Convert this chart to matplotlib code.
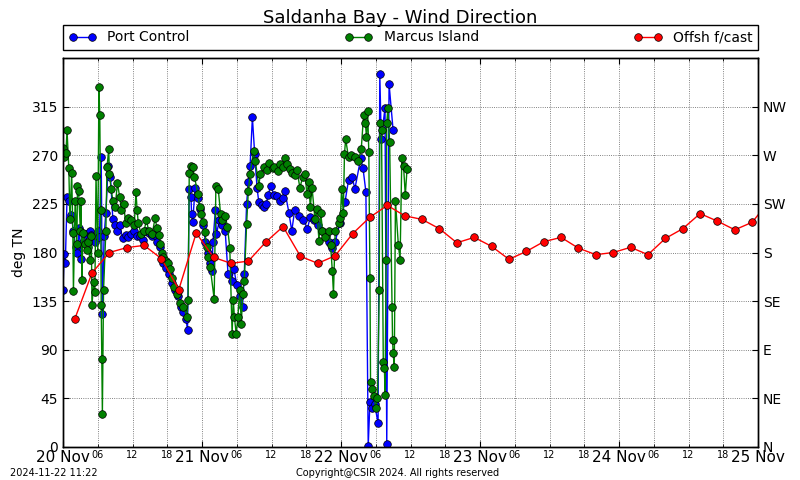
import datetime as dt
import matplotlib
matplotlib.use("Agg")
import matplotlib.pyplot as plt
import matplotlib.dates as mdates

# hours after 2024-11-20 00:00 (SAST) and direction in deg TN
start = dt.datetime(2024, 11, 20)

pc_hours = [0.0, 0.2, 0.4, 0.7, 1.0, 1.4, 1.8, 2.2, 2.5, 2.8, 3.1, 3.5, 3.9, 4.3, 4.6, 4.9,
            5.3, 5.6, 6.0, 6.3, 6.6, 6.8, 7.1, 7.4, 7.8, 8.2, 8.6, 9.0, 9.4, 9.8, 10.3, 10.8,
            11.3, 11.8, 12.3, 12.8, 13.3, 13.8, 14.3, 14.8, 15.3, 15.8, 16.3, 16.8, 17.3, 17.8,
            18.3, 18.8, 19.3, 19.8, 20.3, 20.8, 21.3, 21.5, 21.8, 22.1, 22.2, 22.4, 22.8, 23.3,
            23.7, 24.2, 24.6, 25.0, 25.4, 25.7, 25.9, 26.3, 26.5, 27.0, 27.5, 28.0, 28.5, 29.1,
            29.5, 30.0, 30.5, 31.0, 31.3, 31.7, 32.0, 32.3, 32.7, 33.1, 33.5, 33.8, 34.3, 34.7,
            35.1, 35.4, 35.9, 36.4, 37.0, 37.4, 37.9, 38.3, 39.0, 39.5, 40.0, 40.8, 41.5, 42.2,
            42.7, 43.4, 44.0, 44.7, 45.4, 46.0, 46.5, 47.0, 47.8, 48.7, 49.3, 49.9, 50.4, 51.4,
            51.8, 52.3, 52.7, 53.0, 53.4, 53.8, 54.4, 54.7, 54.95, 55.6, 55.9, 56.3, 57.0]
pc_deg = [145, 179, 170, 231, 228, 215, 200, 185, 180, 203, 174, 190, 197, 185, 200, 196,
          192, 190, 200, 194, 268, 123, 195, 217, 260, 250, 211, 205, 200, 205, 193, 196,
          194, 197, 200, 195, 195, 192, 200, 198, 195, 196, 190, 185, 170, 166,
          160, 152, 145, 140, 130, 125, 118, 108, 239, 231, 216, 208, 240, 230,
          220, 205, 190, 180, 170, 163, 190, 219, 197, 210, 205, 200, 160, 154,
          165, 150, 140, 130, 160, 225, 245, 260, 305, 271, 240, 227, 224, 222,
          225, 233, 242, 233, 232, 228, 230, 237, 217, 200, 219, 214, 210, 202,
          213, 210, 205, 200, 195, 190, 184, 190, 207, 227, 247, 250, 239, 267,
          258, 236, 1, 42, 36, 40, 22, 345, 285, 314, 3, 336, 293]

mi_hours = [0.0, 0.2, 0.5, 0.7, 1.0, 1.2, 1.5, 1.7, 1.8, 2.1, 2.4, 2.5, 2.7, 3.0, 3.1, 3.3,
            3.4, 3.8, 4.1, 4.4, 4.6, 4.9, 5.0, 5.3, 5.5, 5.7, 6.0, 6.2, 6.35, 6.5, 6.6, 6.7,
            6.8, 7.0, 7.4, 7.6, 7.9, 8.0, 8.3, 8.6, 9.0, 9.4, 9.8, 10.1, 10.5, 10.8, 11.3,
            11.8, 12.3, 12.6, 12.8, 13.0, 13.5, 14.0, 14.4, 14.8, 15.4, 15.9, 16.2, 16.5,
            16.8, 17.1, 17.3, 17.8, 18.2, 18.5, 18.8, 19.2, 19.6, 20.2, 20.8, 21.4, 21.6,
            21.8, 22.1, 22.4, 22.7, 23.3, 23.6, 23.9, 24.2, 24.5, 24.8, 25.1, 25.4, 26.1,
            26.4, 26.8, 27.2, 27.5, 28.0, 28.4, 28.8, 29.2, 29.4, 29.6, 29.9, 30.2, 30.5,
            30.8, 31.0, 31.3, 31.7, 32.0, 32.3, 32.9, 33.2, 33.8, 34.1, 34.7, 35.3, 35.6,
            36.2, 36.5, 37.1, 37.4, 38.0, 38.3, 38.6, 39.2, 39.5, 40.0, 40.4, 40.9, 41.4,
            41.8, 42.1, 42.4, 42.7, 43.0, 43.5, 43.8, 44.2, 44.5, 44.8, 45.3, 45.9, 46.2,
            46.5, 46.7, 47.0, 47.6, 47.9, 48.1, 48.4, 48.6, 48.8, 49.3, 49.8, 50.4, 51.0,
            51.5, 51.9, 52.2, 52.4, 52.6, 52.8, 53.0, 53.1, 53.4, 53.7, 54.0, 54.3, 54.6,
            54.7, 55.0, 55.3, 55.5, 55.6, 55.8, 55.9, 56.1, 56.4, 56.8, 56.9, 57.0, 57.2,
            57.4, 57.9, 58.2, 58.5, 58.8, 59.1, 59.4]
mi_deg = [277, 268, 272, 293, 258, 211, 254, 198, 144, 228, 188, 242, 237, 200, 228, 155,
          198, 188, 182, 190, 173, 195, 131, 153, 143, 251, 180, 333, 307, 219, 131, 81,
          31, 145, 200, 259, 276, 253, 239, 228, 222, 244, 231, 219, 225, 207, 212,
          210, 205, 236, 219, 207, 197, 200, 210, 200, 197, 212, 203, 196,
          188, 180, 176, 172, 170, 165, 156, 148, 142, 133, 130, 120, 136,
          254, 260, 259, 250, 234, 222, 216, 208, 199, 185, 176, 167, 137,
          242, 239, 216, 210, 214, 204, 184, 105, 136, 120, 105, 120, 145,
          114, 142, 154, 206, 237, 253, 274, 265, 242, 253, 259, 256, 263,
          258, 259, 255, 262, 259, 267, 262, 257, 254, 252, 256, 240, 250,
          253, 234, 245, 222, 240, 211, 220, 191, 217, 200, 194, 200, 187,
          163, 142, 200, 207, 212, 239, 217, 271, 285, 268, 270, 268, 265,
          276, 307, 300, 287, 311, 273, 156, 60, 54, 47, 36, 45, 145,
          300, 293, 79, 73, 48, 173, 300, 314, 282, 130, 99, 87, 74,
          228, 187, 173, 267, 260, 233, 257]

# offshore forecast every 3 h from 02:00
fc_hours = list(range(2, 123, 3))
fc_deg = [118, 161, 180, 184.5, 186.6, 174.3, 145.7, 198, 175.5, 170, 172, 189.6, 204, 176.4,
          170, 177, 197.4, 212.7, 223.6, 214, 210.6, 202, 189, 194, 185.7, 173.7, 181, 190,
          194, 184, 178, 180, 184.8, 178, 193, 202, 216, 209, 201, 208, 228]

dir_ticks = [0, 45, 90, 135, 180, 225, 270, 315]
dir_names = ['N', 'NE', 'E', 'SE', 'S', 'SW', 'W', 'NW']


def to_time(hours):
    return [start + dt.timedelta(hours=h) for h in hours]


fig = plt.figure(figsize=(8, 4.8), dpi=100)
ax = fig.add_axes([0.07875, 0.06875, 0.86875, 0.8104])

mk = dict(marker='o', markersize=5.5, markeredgecolor='k', markeredgewidth=0.5, linewidth=1)
ax.plot(to_time(pc_hours), pc_deg, color='b', markerfacecolor='b', label='Port Control', **mk)
ax.plot(to_time(mi_hours), mi_deg, color='g', markerfacecolor='g', label='Marcus Island', **mk)
ax.plot(to_time(fc_hours), fc_deg, color='r', markerfacecolor='r', label='Offsh f/cast', **mk)

ax.set_xlim(start, start + dt.timedelta(days=5))
ax.set_ylim(0, 360)
ax.set_yticks(dir_ticks)
ax.set_ylabel('deg TN', fontsize=10)

ax.xaxis.set_major_locator(mdates.DayLocator())
ax.xaxis.set_major_formatter(mdates.DateFormatter('%d %b'))
ax.xaxis.set_minor_locator(mdates.HourLocator(byhour=[6, 12, 18]))
ax.xaxis.set_minor_formatter(mdates.DateFormatter('%H'))
ax.tick_params(axis='x', which='major', labelsize=11, direction='in', length=4, pad=2, top=True)
ax.tick_params(axis='x', which='minor', labelsize=7, direction='in', length=2, pad=2, top=True)
ax.tick_params(axis='y', labelsize=10, direction='in', length=4)
ax.grid(True, which='both', linestyle=':', color='0.35', linewidth=0.6)

ax2 = ax.twinx()
ax2.set_ylim(0, 360)
ax2.set_yticks(dir_ticks)
ax2.set_yticklabels(dir_names)
ax2.tick_params(axis='y', labelsize=10, direction='in', length=4)

for a in (ax, ax2):
    for s in a.spines.values():
        s.set_linewidth(1)

leg = ax.legend(bbox_to_anchor=(0, 1.0206, 1, 0.0617), loc='lower left', ncol=3,
                mode='expand', borderaxespad=0, numpoints=2, fancybox=False,
                fontsize=10, handlelength=2, framealpha=1)
leg.get_frame().set_edgecolor('k')

fig.text(0.5, 0.9625, 'Saldanha Bay - Wind Direction', ha='center', va='center', fontsize=13)
fig.text(0.0125, 0.008, '2024-11-22 11:22', fontsize=7)
fig.text(0.37, 0.008, 'Copyright@CSIR 2024. All rights reserved', fontsize=7)

fig.savefig('out.png', dpi=100)
